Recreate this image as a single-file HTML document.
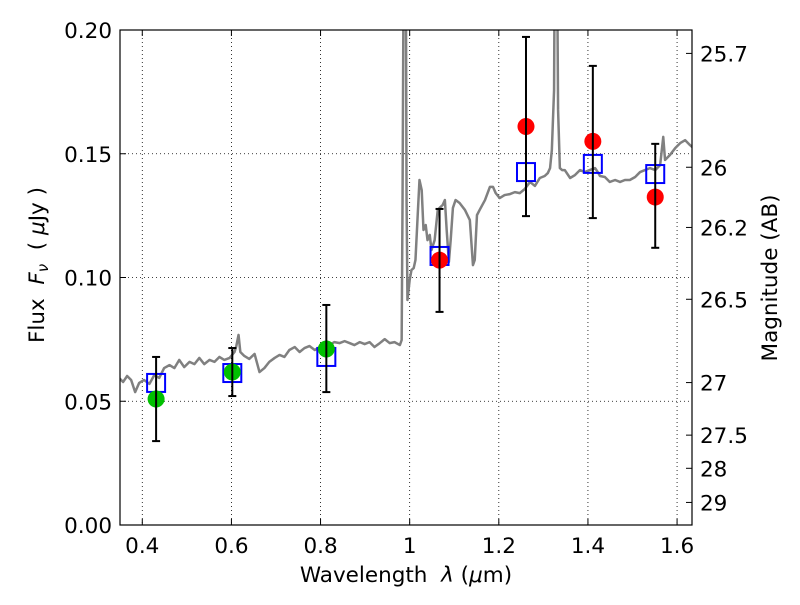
<!DOCTYPE html>
<html><head><meta charset="utf-8"><style>
body{margin:0;background:#fff}
svg text{font-family:"DejaVu Sans","Liberation Sans",sans-serif;fill:#000;white-space:pre}
</style></head><body>
<svg id="c" width="800" height="600"></svg>
<script>
const specWl=[0.348,0.357,0.366,0.375,0.384,0.393,0.404,0.416,0.427,0.438,0.449,0.461,0.472,0.483,0.494,0.506,0.517,0.528,0.539,0.551,0.562,0.573,0.584,0.596,0.607,0.611,0.616,0.620,0.629,0.640,0.652,0.663,0.674,0.685,0.697,0.708,0.719,0.730,0.742,0.753,0.764,0.775,0.787,0.798,0.809,0.820,0.831,0.843,0.854,0.865,0.876,0.888,0.899,0.910,0.921,0.933,0.944,0.955,0.966,0.978,0.982,0.984,0.987,0.991,0.993,0.995,1.000,1.004,1.009,1.013,1.018,1.022,1.027,1.031,1.036,1.040,1.045,1.049,1.056,1.063,1.067,1.074,1.079,1.083,1.088,1.092,1.097,1.103,1.112,1.124,1.135,1.142,1.146,1.151,1.157,1.169,1.180,1.187,1.193,1.202,1.213,1.225,1.236,1.247,1.258,1.270,1.281,1.292,1.303,1.310,1.315,1.319,1.324,1.326,1.330,1.333,1.337,1.342,1.348,1.360,1.371,1.382,1.393,1.404,1.416,1.422,1.427,1.438,1.449,1.461,1.472,1.483,1.494,1.506,1.517,1.528,1.539,1.551,1.562,1.569,1.573,1.584,1.596,1.607,1.618,1.629,1.634];
const specFlux=[.0594,.0578,.0602,.0586,.0537,.0574,.0586,.0570,.0606,.0594,.0634,.0646,.0634,.0667,.0638,.0659,.0650,.0675,.0650,.0667,.0659,.0679,.0667,.0675,.0699,.0723,.0768,.0699,.0683,.0671,.0691,.0618,.0634,.0659,.0675,.0687,.0679,.0707,.0719,.0699,.0715,.0723,.0707,.0719,.0727,.0727,.0739,.0735,.0743,.0735,.0727,.0739,.0731,.0739,.0719,.0735,.0751,.0735,.0739,.0727,.0747,.1313,.25,.25,.1313,.0909,.0990,.1030,.1038,.1071,.1252,.1394,.1353,.1192,.1212,.1151,.1172,.1111,.1151,.1273,.1281,.1293,.1313,.1192,.1063,.1151,.1281,.1313,.1301,.1273,.1232,.1050,.1071,.1252,.1273,.1313,.1366,.1366,.1341,.1321,.1333,.1337,.1345,.1341,.1357,.1386,.1370,.1402,.1410,.1422,.1442,.1515,.1757,.25,.25,.1677,.1442,.1434,.1434,.1402,.1414,.1434,.1426,.1434,.1442,.1426,.1410,.1406,.1386,.1394,.1386,.1394,.1394,.1406,.1426,.1434,.1442,.1434,.1454,.1568,.1475,.1495,.1523,.1543,.1555,.1535,.1527];
const modelWl=[0.431,0.602,0.813,1.067,1.261,1.411,1.551];
const modelFlux=[0.0574,0.0614,0.0679,0.1087,0.1426,0.1459,0.1418];
const greenWl=[0.431,0.602,0.813];
const greenFlux=[0.0509,0.0618,0.0711];
const greenLo=[0.0339,0.0521,0.0537];
const greenHi=[0.0679,0.0715,0.0889];
const redWl=[1.067,1.261,1.411,1.551];
const redFlux=[0.107,0.161,0.155,0.1325];
const redLo=[0.0861,0.1248,0.124,0.112];
const redHi=[0.1277,0.1972,0.1855,0.154];
const xTicks=[0.4,0.6,0.8,1.0,1.2,1.4,1.6];
const xTickLabels=["0.4","0.6","0.8","1","1.2","1.4","1.6"];
const yTicks=[0,0.05,0.1,0.15,0.2];
const yTickLabels=["0.00","0.05","0.10","0.15","0.20"];
const magTicks=[25.7,26,26.2,26.5,27,27.5,28,29];
const magLabels=["25.7","26","26.2","26.5","27","27.5","28","29"];

const L=120,R=692,T=30,B=525,X0=0.35,X1=1.6335,Y0=0,Y1=0.2;
const sx=v=>L+(v-X0)/(X1-X0)*(R-L);
const sy=v=>B-(v-Y0)/(Y1-Y0)*(B-T);
const svg=document.getElementById('c');
const NS='http://www.w3.org/2000/svg';
function mk(tag,attrs,parent){const e=document.createElementNS(NS,tag);for(const k in attrs)e.setAttribute(k,attrs[k]);(parent||svg).appendChild(e);return e;}

const defs=mk('defs',{});
const cp=mk('clipPath',{id:'clip'},defs);mk('rect',{x:L,y:T,width:R-L,height:B-T},cp);

xTicks.forEach((t,i)=>{
 const g=mk('line',{x1:sx(t),x2:sx(t),y1:T,y2:B,stroke:'#000','stroke-dasharray':'1,3','stroke-width':0.8});
 
 
 const tk=mk('line',{x1:sx(t),x2:sx(t),y1:B,y2:B-6,stroke:'#000'});
 
 
 mk('line',{x1:sx(t),x2:sx(t),y1:T,y2:T+6,stroke:'#000'});
 const tx=mk('text',{x:sx(t),y:B+28,'text-anchor':'middle','font-size':21.5});
 tx.textContent=xTickLabels[i];
 
 
});
yTicks.forEach((t,i)=>{
 if(t>0&&t<0.2){const g=mk('line',{x1:L,x2:R,y1:sy(t),y2:sy(t),stroke:'#000','stroke-dasharray':'1,3','stroke-width':0.8});
 
 }
 mk('line',{x1:L,x2:L+6,y1:sy(t),y2:sy(t),stroke:'#000'});
 const tx=mk('text',{x:L-8,y:sy(t)+8,'text-anchor':'end','font-size':21.5});
 tx.textContent=yTickLabels[i];
 
 
});
magTicks.forEach((m,i)=>{
 const f=Math.pow(10,(23.9-m)/2.5);const y=sy(f);
 mk('line',{x1:R,x2:R-6,y1:y,y2:y,stroke:'#000'});
 const tx=mk('text',{x:R+8,y:y+8,'font-size':21.5});
 tx.textContent=magLabels[i];
 
 
});

const sp=mk('polyline',{points:specWl.map((w,i)=>sx(w)+','+sy(specFlux[i])).join(' '),fill:'none',stroke:'#808080','stroke-width':2.5,'clip-path':'url(#clip)','stroke-linejoin':'round'});



modelWl.forEach((w,i)=>{
 const r=mk('rect',{x:sx(w)-9,y:sy(modelFlux[i])-9,width:18,height:18,fill:'none',stroke:'#0000ff','stroke-width':2});
 
 
});
function err(w,lo,hi){
 const x=sx(w);
 const g=mk('g',{stroke:'#000','stroke-width':2});
 
 
 mk('line',{x1:x,x2:x,y1:sy(lo),y2:sy(hi)},g);
 mk('line',{x1:x-4,x2:x+4,y1:sy(lo),y2:sy(lo)},g);
 mk('line',{x1:x-4,x2:x+4,y1:sy(hi),y2:sy(hi)},g);
}
greenWl.forEach((w,i)=>{
 const c=mk('circle',{cx:sx(w),cy:sy(greenFlux[i]),r:8.5,fill:'#00c000'});
 
 
 err(w,greenLo[i],greenHi[i]);
});
redWl.forEach((w,i)=>{
 const c=mk('circle',{cx:sx(w),cy:sy(redFlux[i]),r:8.5,fill:'#ff0000'});
 
 
 err(w,redLo[i],redHi[i]);
});

const fr=mk('rect',{x:L,y:T,width:R-L,height:B-T,fill:'none',stroke:'#000','stroke-width':1.2});



const xl=mk('text',{x:406,y:582,'text-anchor':'middle','font-size':21.5});
xl.innerHTML='Wavelength  <tspan font-style="italic">λ</tspan> (<tspan font-style="italic">μ</tspan>m)';


const yl=mk('text',{transform:'translate(44,265) rotate(-90)','text-anchor':'middle','font-size':21.5});
yl.innerHTML='Flux  <tspan font-style="italic">F</tspan><tspan font-style="italic" font-size="15" dy="4">ν</tspan><tspan dy="-4">  ( </tspan><tspan font-style="italic">μ</tspan>Jy )';


const ml=mk('text',{transform:'translate(777,278) rotate(-90)','text-anchor':'middle','font-size':21.5});
ml.textContent='Magnitude (AB)';


</script>
</body></html>
